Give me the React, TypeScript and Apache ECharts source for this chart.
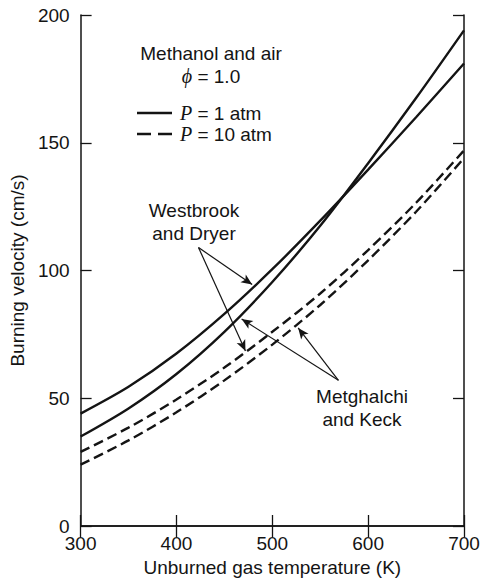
import React, { useEffect, useRef } from "react";
import * as echarts from "echarts";

const temps = [300, 350, 400, 450, 500, 550, 600, 650, 700];
const westbrook1atm = [44, 54.5, 67.5, 83, 100.5, 119.5, 139.5, 160, 181];
const metghalchi1atm = [35, 46, 59.5, 76, 95.5, 117.5, 142, 167.5, 194];
const westbrook10atm = [29, 38.5, 49.5, 62, 76, 91, 108, 126.5, 147];
const metghalchi10atm = [24, 33.5, 44.5, 57, 71, 86.5, 104, 123, 144];

const xTicks = { min: 300, max: 700, interval: 100 };
const yTicks = { min: 0, max: 200, interval: 50 };

// arrows: [from, to] in data coordinates
const westbrookArrows = [
  [[423, 109], [479, 94.5]],
  [[423, 109], [472, 68.5]],
];
const metghalchiArrows = [
  [[569, 57], [468, 81]],
  [[569, 57], [527, 77.5]],
];

const FONT = "'Liberation Sans', Arial, Helvetica, sans-serif";
const INK = "#141414";

export default function App() {
  const ref = useRef<HTMLDivElement>(null);
  useEffect(() => {
    if (!ref.current) return;
    const chart = echarts.init(ref.current, null, { renderer: "svg" });
    const pair = (ys: number[]) => temps.map((t, i) => [t, ys[i]]);
    const solid = { color: INK, width: 2.4, type: "solid" as const };
    const dashed = { color: INK, width: 2.4, type: [10, 5] as any };
    const arrows = [...westbrookArrows, ...metghalchiArrows].map((a) => [
      { coord: a[0] },
      { coord: a[1] },
    ]);
    const axisCommon = {
      axisLine: { show: true, lineStyle: { color: INK, width: 1.5 } },
      axisTick: { show: true, inside: true, length: 11, lineStyle: { color: INK, width: 1.3 } },
      splitLine: { show: false },
    };
    const italic = { fontFamily: "'Liberation Serif', 'DejaVu Serif', serif", fontStyle: "italic", fontSize: 20, fill: INK };
    chart.setOption({
      animation: false,
      backgroundColor: "#ffffff",
      grid: { left: 79, right: 22, top: 15, bottom: 56, containLabel: false },
      xAxis: [
        {
          type: "value",
          position: "bottom",
          ...xTicks,
          ...axisCommon,
          axisLabel: { color: INK, fontSize: 19, fontFamily: FONT, margin: 8 },
          name: "Unburned gas temperature (K)",
          nameLocation: "middle",
          nameGap: 31,
          nameTextStyle: { color: INK, fontSize: 19, fontFamily: FONT },
        },
        {
          type: "value",
          position: "top",
          ...xTicks,
          ...axisCommon,
          axisLabel: { show: false },
        },
      ],
      yAxis: [
        {
          type: "value",
          position: "left",
          ...yTicks,
          ...axisCommon,
          axisLabel: { color: INK, fontSize: 19, fontFamily: FONT, margin: 11 },
          name: "Burning velocity (cm/s)",
          nameLocation: "middle",
          nameGap: 42,
          nameTextStyle: { color: INK, fontSize: 19, fontFamily: FONT },
        },
        {
          type: "value",
          position: "right",
          ...yTicks,
          ...axisCommon,
          axisLabel: { show: false },
        },
      ],
      series: [
        {
          name: "Westbrook and Dryer, P = 1 atm",
          type: "line",
          data: pair(westbrook1atm),
          smooth: 0.3,
          symbol: "none",
          lineStyle: solid,
          markLine: {
            silent: true,
            symbol: ["none", "arrow"],
            symbolSize: [7, 11],
            label: { show: false },
            lineStyle: { color: INK, width: 1.2, type: "solid" },
            data: arrows,
          },
        },
        {
          name: "Metghalchi and Keck, P = 1 atm",
          type: "line",
          data: pair(metghalchi1atm),
          smooth: 0.3,
          symbol: "none",
          lineStyle: solid,
        },
        {
          name: "Westbrook and Dryer, P = 10 atm",
          type: "line",
          data: pair(westbrook10atm),
          smooth: 0.3,
          symbol: "none",
          lineStyle: dashed,
        },
        {
          name: "Metghalchi and Keck, P = 10 atm",
          type: "line",
          data: pair(metghalchi10atm),
          smooth: 0.3,
          symbol: "none",
          lineStyle: dashed,
        },
      ],
      graphic: [
        {
          type: "text",
          x: 211,
          y: 53,
          style: { text: "Methanol and air", fontSize: 19, fontFamily: FONT, fill: INK, align: "center", verticalAlign: "middle" },
        },
        {
          type: "text",
          x: 211,
          y: 76,
          style: {
            text: "{i|ϕ} = 1.0",
            fontSize: 19,
            fontFamily: FONT,
            fill: INK,
            align: "center",
            verticalAlign: "middle",
            rich: { i: italic },
          },
        },
        {
          type: "line",
          shape: { x1: 137, y1: 113, x2: 172, y2: 113 },
          style: { stroke: INK, lineWidth: 2.6 },
        },
        {
          type: "line",
          shape: { x1: 137, y1: 134, x2: 172, y2: 134 },
          style: { stroke: INK, lineWidth: 2.6, lineDash: [14, 7] },
        },
        {
          type: "text",
          x: 180,
          y: 113,
          style: {
            text: "{i|P} = 1 atm",
            fontSize: 19,
            fontFamily: FONT,
            fill: INK,
            align: "left",
            verticalAlign: "middle",
            rich: { i: italic },
          },
        },
        {
          type: "text",
          x: 180,
          y: 134,
          style: {
            text: "{i|P} = 10 atm",
            fontSize: 19,
            fontFamily: FONT,
            fill: INK,
            align: "left",
            verticalAlign: "middle",
            rich: { i: italic },
          },
        },
        {
          type: "text",
          x: 194,
          y: 222,
          style: { text: "Westbrook\nand Dryer", fontSize: 19, lineHeight: 23, fontFamily: FONT, fill: INK, align: "center", verticalAlign: "middle" },
        },
        {
          type: "text",
          x: 362,
          y: 408,
          style: { text: "Metghalchi\nand Keck", fontSize: 19, lineHeight: 23, fontFamily: FONT, fill: INK, align: "center", verticalAlign: "middle" },
        },
      ],
    });
    return () => chart.dispose();
  }, []);
  return (
    <div
      ref={ref}
      style={{ position: "fixed", left: 0, top: 0, width: 486, height: 582, background: "#fff" }}
    />
  );
}
